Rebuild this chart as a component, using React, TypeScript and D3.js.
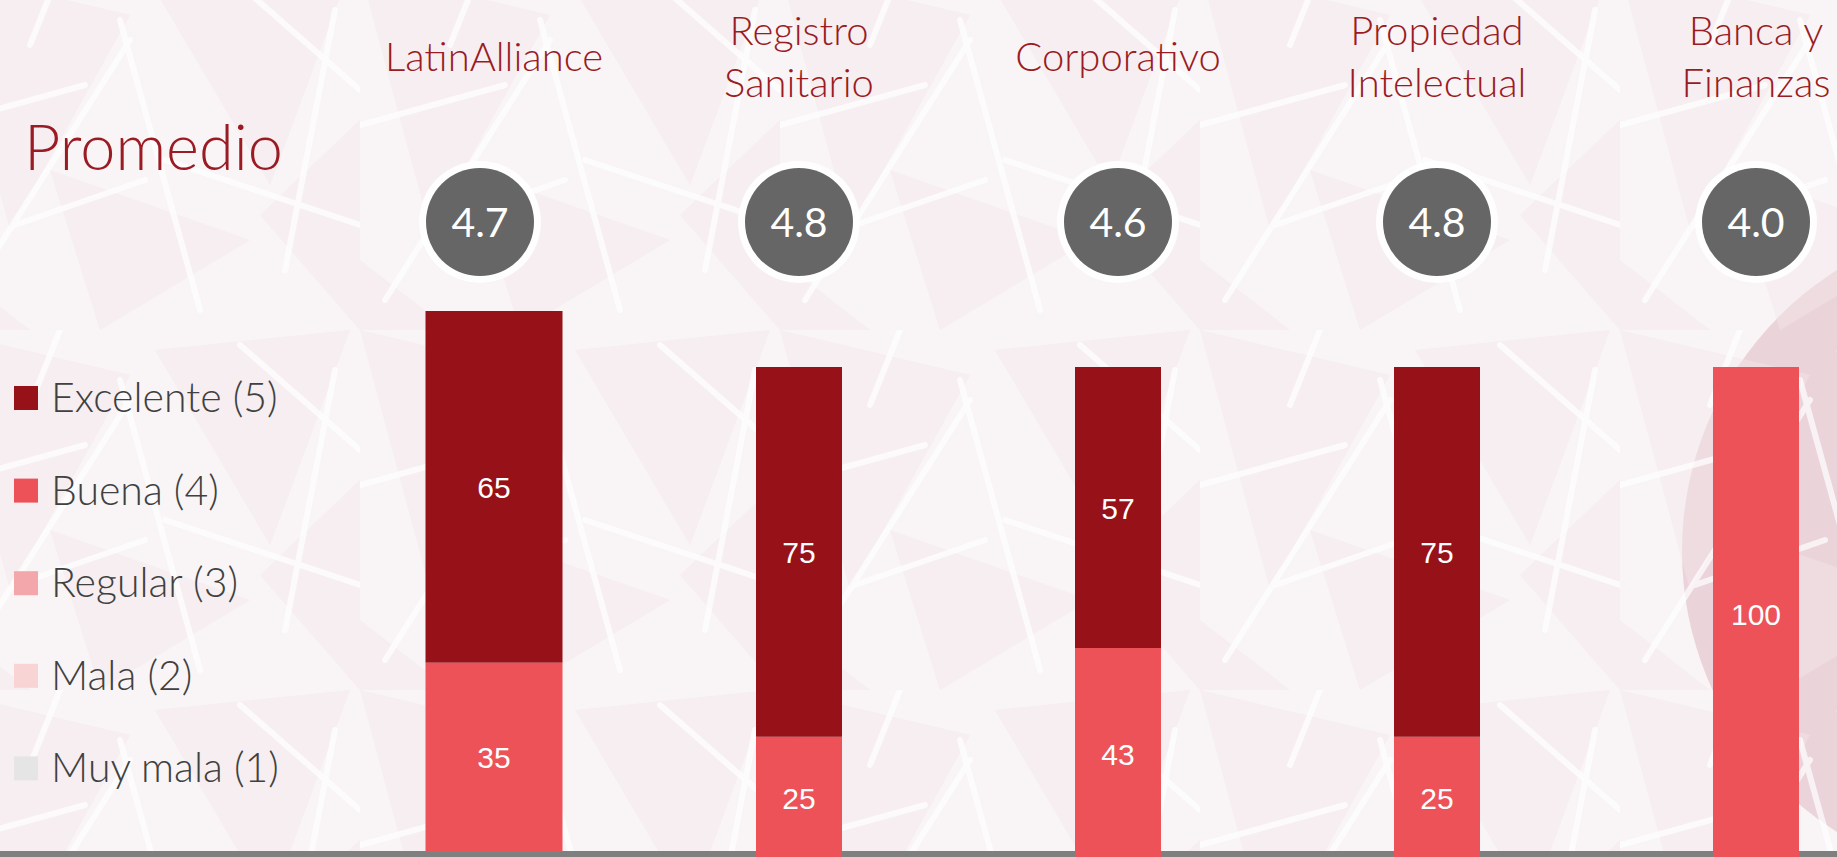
import React from "react";
import * as d3 from "d3";

// ---------- data ----------
const categories = ["LatinAlliance", "Registro Sanitario", "Corporativo", "Propiedad Intelectual", "Banca y Finanzas"];
const categoryLines = [["LatinAlliance"], ["Registro", "Sanitario"], ["Corporativo"], ["Propiedad", "Intelectual"], ["Banca y", "Finanzas"]];
const promedio = [4.7, 4.8, 4.6, 4.8, 4.0];

const seriesNames = ["Excelente (5)", "Buena (4)", "Regular (3)", "Mala (2)", "Muy mala (1)"];
const seriesColors = ["#961118", "#ec5258", "#f4a7aa", "#f9d4d5", "#e5e5e5"];
const excelente = [65, 75, 57, 75, 0];
const buena = [35, 25, 43, 25, 100];
const regular = [0, 0, 0, 0, 0];
const mala = [0, 0, 0, 0, 0];
const muyMala = [0, 0, 0, 0, 0];

const W = 1837;
const H = 857;
const TITLE_COLOR = "#9a1b23";
const LATO = "Lato, 'Open Sans', sans-serif";

export default function App() {
  // stacking order from bottom: Muy mala, Mala, Regular, Buena, Excelente
  const rows = categories.map((c, i) => ({
    cat: c,
    s0: excelente[i],
    s1: buena[i],
    s2: regular[i],
    s3: mala[i],
    s4: muyMala[i],
  }));
  const keys = ["s4", "s3", "s2", "s1", "s0"];
  const stack = d3.stack<any>().keys(keys)(rows);

  const x = d3.scalePoint<string>().domain(categories).range([480, 1756]);
  // the aggregate (first) panel is drawn larger and slightly shifted
  const mainShift = 14;
  const bx = (i: number) => x(categories[i])! + (i === 0 ? mainShift : 0);
  const yMain = d3.scaleLinear().domain([0, 100]).range([852, 311]);
  const yOther = d3.scaleLinear().domain([0, 100]).range([860, 367]);
  const yFor = (i: number) => (i === 0 ? yMain : yOther);
  const bw = (i: number) => (i === 0 ? 137 : 86);

  const legendY = d3.scaleBand<number>().domain(d3.range(seriesNames.length)).range([374, 837]);

  return (
    <svg
      width={W}
      height={H}
      viewBox={`0 0 ${W} ${H}`}
      style={{ position: "absolute", left: 0, top: 0, display: "block" }}
    >
      <defs>
        <pattern id="bgp" width="420" height="360" patternUnits="userSpaceOnUse" patternTransform="translate(-60,-30)">
          <g fill="#f1e6e8" opacity={0.45}>
            <polygon points="0,0 190,45 70,260" />
            <polygon points="215,20 410,0 330,215" />
            <polygon points="110,200 310,270 160,360" />
            <polygon points="320,245 420,150 420,360" />
            <polygon points="0,290 90,360 0,360" />
          </g>
          <g stroke="#ffffff" strokeWidth="6" strokeLinecap="round" fill="none" opacity={0.7}>
            <path d="M25,330 L190,70" />
            <path d="M180,50 L260,340" />
            <path d="M300,15 L420,120" />
            <path d="M0,155 L145,115" />
            <path d="M225,190 L420,255" />
            <path d="M75,255 L205,210" />
            <path d="M345,300 L395,40" />
            <path d="M120,0 L90,75" />
          </g>
        </pattern>
      </defs>

      {/* background */}
      <rect x={0} y={0} width={W} height={H} fill="#f9f4f5" />
      <circle cx={2014} cy={551} r={332} fill="#e6cacf" opacity={0.75} />
      <rect x={0} y={0} width={W} height={H} fill="url(#bgp)" />

      {/* title */}
      <text x={24} y={170} fontFamily={LATO} fontWeight={300} fontSize={63} fill={TITLE_COLOR}>
        Promedio
      </text>

      {/* legend */}
      {seriesNames.map((name, i) => {
        const y0 = legendY(i)!;
        return (
          <g key={name}>
            <rect x={14} y={y0 + 12} width={24} height={24} fill={seriesColors[i]} />
            <text x={51} y={y0 + 38} fontFamily={LATO} fontWeight={300} fontSize={41} fill="#404040">
              {name}
            </text>
          </g>
        );
      })}

      {/* axis baseline */}
      <rect x={0} y={851} width={W} height={6} fill="#7f7f7f" />

      {/* bars */}
      {stack.map((layer, li) => {
        const seriesIdx = 4 - li; // s4..s0
        return (
          <g key={layer.key}>
            {layer.map((d, i) => {
              const y = yFor(i);
              const v = d[1] - d[0];
              if (v <= 0) return null;
              const cx = bx(i);
              return (
                <g key={i}>
                  <rect
                    x={cx - bw(i) / 2}
                    y={y(d[1])}
                    width={bw(i)}
                    height={y(d[0]) - y(d[1])}
                    fill={seriesColors[seriesIdx]}
                  />
                  <text
                    x={cx}
                    y={(y(d[0]) + y(d[1])) / 2 + 11}
                    textAnchor="middle"
                    fontFamily="'Liberation Sans', Arial, sans-serif"
                    fontSize={30}
                    fill="#ffffff"
                  >
                    {v}
                  </text>
                </g>
              );
            })}
          </g>
        );
      })}

      {/* average circles */}
      {categories.map((c, i) => {
        const cx = x(c)!;
        return (
          <g key={c}>
            <circle cx={cx} cy={222} r={61} fill="#ffffff" opacity={0.9} />
            <circle cx={cx} cy={222} r={54} fill="#666666" />
            <text
              x={cx}
              y={222 + 15}
              textAnchor="middle"
              fontFamily={LATO}
              fontSize={41}
              fill="#ffffff"
            >
              {promedio[i].toFixed(1)}
            </text>
          </g>
        );
      })}

      {/* category titles */}
      {categoryLines.map((lines, i) => {
        const cx = bx(i);
        const base = lines.length === 1 ? 71 : 45;
        return (
          <text
            key={categories[i]}
            textAnchor="middle"
            fontFamily={LATO}
            fontWeight={300}
            fontSize={40}
            fill={TITLE_COLOR}
          >
            {lines.map((ln, k) => (
              <tspan key={k} x={cx} y={base + k * 52}>
                {ln}
              </tspan>
            ))}
          </text>
        );
      })}
    </svg>
  );
}
